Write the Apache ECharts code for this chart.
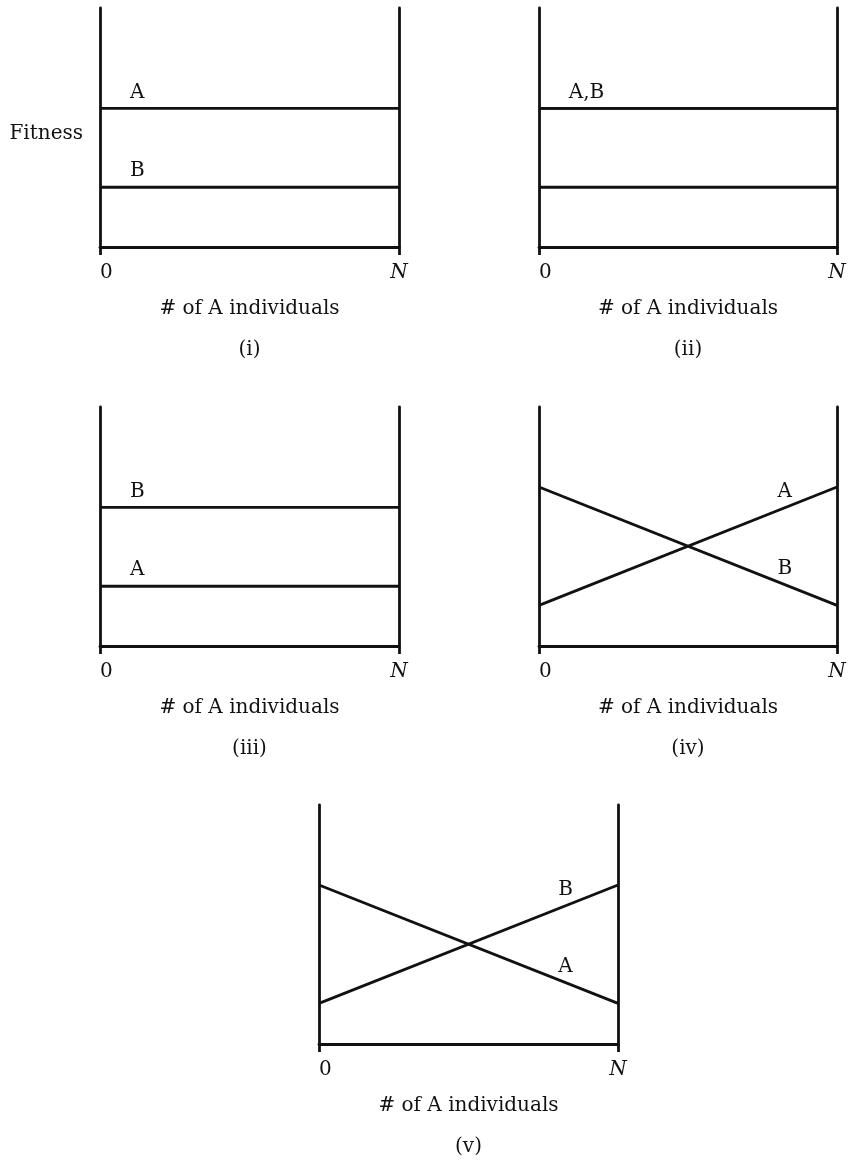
<!DOCTYPE html>
<html>
<head>
<meta charset="utf-8">
<script src="https://cdn.jsdelivr.net/npm/echarts@6/dist/echarts.min.js"></script>
<style>
html, body { margin: 0; padding: 0; background: #fff; }
#chart { width: 851px; height: 1164px; }
</style>
</head>
<body>
<div id="chart"></div>
<script>
// x goes from 0 to N (drawn as 0..1), fitness on an arbitrary 0..10 scale
const xTicks = [0, 1];
const xTickLabels = ['0', 'N'];
const panelNames = ['(i)', '(ii)', '(iii)', '(iv)', '(v)'];
const fitnessA = [[5.8, 5.8], [5.8, 5.8], [2.5, 2.5], [1.7, 6.65], [6.65, 1.7]];
const fitnessB = [[2.5, 2.5], [5.8, 5.8], [5.8, 5.8], [6.65, 1.7], [1.7, 6.65]];
const otherLine = [null, [2.5, 2.5], null, null, null];
const labelA = ['A', 'A,B', 'A', 'A', 'A'];
const labelB = ['B', '', 'B', 'B', 'B'];

const ink = '#111';
const font = 'DejaVu Serif';
const fs = 20;
const lw = 2.8;

const boxes = [
    { left: 100, top: 8, width: 299, height: 239 },
    { left: 539, top: 8, width: 298, height: 239 },
    { left: 100, top: 407, width: 299, height: 239 },
    { left: 539, top: 407, width: 298, height: 239 },
    { left: 319, top: 805, width: 299, height: 239 }
];

const chart = echarts.init(document.getElementById('chart'));

const grid = [], xAxis = [], yAxis = [], series = [], graphic = [];

function lineSeries(i, vals, text) {
    const flat = vals[0] === vals[1];
    const lx = flat ? 0.1 : 0.8;
    const cx = flat ? 0 : 0.825;
    const ly = vals[0] + (vals[1] - vals[0]) * cx;
    return {
        type: 'line',
        xAxisIndex: i,
        yAxisIndex: i * 2,
        data: xTicks.map((x, k) => [x, vals[k]]),
        symbol: 'none',
        silent: true,
        lineStyle: { color: ink, width: lw },
        markPoint: text ? {
            symbol: 'circle',
            symbolSize: 0,
            silent: true,
            data: [{ coord: [lx, ly] }],
            label: {
                show: true,
                formatter: text,
                position: 'inside',
                align: 'left',
                verticalAlign: 'middle',
                offset: [0, -16],
                fontFamily: font,
                fontSize: fs,
                color: ink
            }
        } : undefined
    };
}

boxes.forEach((b, i) => {
    grid.push(Object.assign({ containLabel: false }, b));
    xAxis.push({
        type: 'value',
        gridIndex: i,
        min: 0,
        max: 1,
        interval: 1,
        splitLine: { show: false },
        axisLine: { onZero: false, lineStyle: { color: ink, width: lw } },
        axisTick: { show: true, length: 8, lineStyle: { color: ink, width: lw } },
        axisLabel: {
            margin: 16,
            alignMinLabel: 'left',
            fontFamily: font,
            fontSize: fs,
            color: ink,
            formatter: v => v === 0 ? xTickLabels[0] : '{n|' + xTickLabels[1] + '}',
            rich: { n: { fontStyle: 'italic', fontFamily: font, fontSize: fs, color: ink } }
        },
        name: '# of A individuals',
        nameLocation: 'middle',
        nameGap: 52,
        nameTextStyle: { fontFamily: font, fontSize: fs, color: ink }
    });
    ['left', 'right'].forEach(pos => {
        yAxis.push({
            type: 'value',
            gridIndex: i,
            position: pos,
            min: 0,
            max: 10,
            splitLine: { show: false },
            axisTick: { show: false },
            axisLabel: { show: false },
            axisLine: { show: true, onZero: false, lineStyle: { color: ink, width: lw } },
            name: (i === 0 && pos === 'left') ? 'Fitness' : '',
            nameLocation: 'middle',
            nameRotate: 0,
            nameGap: 17,
            nameTextStyle: { fontFamily: font, fontSize: fs, color: ink, align: 'right', verticalAlign: 'top', lineHeight: 12 }
        });
    });
    series.push(lineSeries(i, fitnessA[i], labelA[i]));
    series.push(lineSeries(i, fitnessB[i], labelB[i]));
    if (otherLine[i]) series.push(lineSeries(i, otherLine[i], ''));
    graphic.push({
        type: 'text',
        x: b.left + b.width / 2,
        y: b.top + b.height + 103,
        style: {
            text: panelNames[i],
            textAlign: 'center',
            textVerticalAlign: 'middle',
            font: fs + 'px "' + font + '"',
            fill: ink
        }
    });
});

chart.setOption({
    animation: false,
    backgroundColor: '#fff',
    grid: grid,
    xAxis: xAxis,
    yAxis: yAxis,
    series: series,
    graphic: graphic
});
</script>
</body>
</html>
